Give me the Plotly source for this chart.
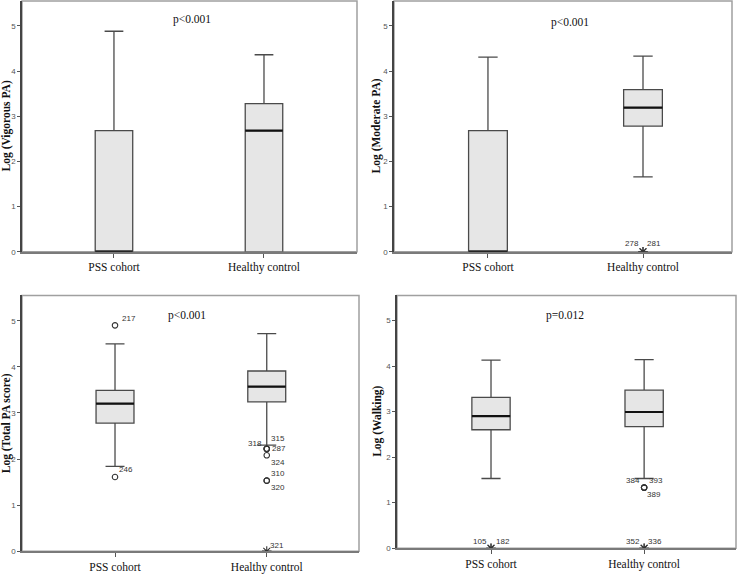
import plotly.graph_objects as go

# ---------------- data ----------------
categories = ["PSS cohort", "Healthy control"]

# Panel 1: Log (Vigorous PA)
vig_lower = [0.0, 0.0]
vig_q1 = [0.0, 0.0]
vig_median = [0.0, 2.68]
vig_q3 = [2.68, 3.28]
vig_upper = [4.88, 4.36]
vig_p = "p<0.001"

# Panel 2: Log (Moderate PA)
mod_lower = [0.0, 1.66]
mod_q1 = [0.0, 2.78]
mod_median = [0.0, 3.19]
mod_q3 = [2.68, 3.59]
mod_upper = [4.31, 4.33]
mod_p = "p<0.001"
mod_out_group = [1, 1]
mod_out_value = [0.0, 0.0]
mod_out_label = ["278", "281"]
mod_out_kind = ["*", "*"]

# Panel 3: Log (Total PA score)
tot_lower = [1.84, 2.30]
tot_q1 = [2.78, 3.24]
tot_median = [3.20, 3.57]
tot_q3 = [3.49, 3.91]
tot_upper = [4.50, 4.72]
tot_p = "p<0.001"
tot_out_group = [0, 0, 1, 1, 1, 1, 1, 1, 1]
tot_out_value = [4.90, 1.61, 2.22, 2.22, 2.22, 2.08, 1.53, 1.53, 0.0]
tot_out_label = ["217", "246", "318", "315", "287", "324", "310", "320", "321"]
tot_out_kind = ["o", "o", "o", "o", "o", "o", "o", "o", "*"]

# Panel 4: Log (Walking)
walk_lower = [1.53, 1.53]
walk_q1 = [2.60, 2.67]
walk_median = [2.90, 2.99]
walk_q3 = [3.31, 3.47]
walk_upper = [4.13, 4.14]
walk_p = "p=0.012"
walk_out_group = [0, 0, 1, 1, 1, 1, 1]
walk_out_value = [0.0, 0.0, 0.0, 0.0, 1.33, 1.33, 1.33]
walk_out_label = ["105", "182", "352", "336", "384", "393", "389"]
walk_out_kind = ["*", "*", "*", "*", "o", "o", "o"]

y_titles = ["Log (Vigorous PA)", "Log (Moderate PA)", "Log (Total PA score)", "Log (Walking)"]
y_ticks = [0, 1, 2, 3, 4, 5]

# ---------------- styles ----------------
W, H = 738, 576
# label offsets (style): label -> (xanchor, xshift, yshift)
label_style = {
    "278": ("right", -2, 8), "281": ("left", 2, 8),
    "217": ("left", 5, 7), "246": ("left", 2, 7),
    "318": ("right", -3, 5), "315": ("left", 2, 10), "287": ("left", 3, 0),
    "324": ("left", 2, -7), "310": ("left", 2, 7), "320": ("left", 2, -7),
    "321": ("left", 1, 6),
    "105": ("right", -2, 7), "182": ("left", 3, 7),
    "352": ("right", -2, 7), "336": ("left", 2, 7),
    "384": ("right", -2, 7), "393": ("left", 3, 7), "389": ("left", 1, -7),
}
# panel pixel boxes: left, right, top, bottom
panel_px = [(22, 357, 1, 254), (394, 732, 1, 254), (22, 359, 298, 556), (397, 736, 298, 553)]
x_ranges = [(-0.613, 1.62), (-0.606, 1.574), (-0.613, 1.608), (-0.614, 1.60)]
y_top = [5.55, 5.55, 5.55, 5.55]
p_pos = [(0.507, 0.925), (0.52, 0.915), (0.49, 0.922), (0.495, 0.92)]
title_x_px = [6, 376, 6, 378]

box_width = 0.25
box_fill = "#e6e6e6"
box_line = "#4a4a4a"
serif = "Liberation Serif, Times New Roman, serif"
sans = "Liberation Sans, Arial, sans-serif"

panels = [
    (vig_lower, vig_q1, vig_median, vig_q3, vig_upper, vig_p, [], [], [], []),
    (mod_lower, mod_q1, mod_median, mod_q3, mod_upper, mod_p, mod_out_group, mod_out_value, mod_out_label, mod_out_kind),
    (tot_lower, tot_q1, tot_median, tot_q3, tot_upper, tot_p, tot_out_group, tot_out_value, tot_out_label, tot_out_kind),
    (walk_lower, walk_q1, walk_median, walk_q3, walk_upper, walk_p, walk_out_group, walk_out_value, walk_out_label, walk_out_kind),
]

fig = go.Figure()
annotations = []
shapes = []
layout_axes = {}

for k, (lo, q1, med, q3, up, ptxt, og, ov, ol, okind) in enumerate(panels):
    n = k + 1
    xa = "x" if n == 1 else f"x{n}"
    ya = "y" if n == 1 else f"y{n}"
    xkey = "xaxis" if n == 1 else f"xaxis{n}"
    ykey = "yaxis" if n == 1 else f"yaxis{n}"
    l, r, t, b = panel_px[k]
    xs = list(range(len(categories)))

    fig.add_trace(go.Box(
        x=xs, q1=q1, median=med, q3=q3, lowerfence=lo, upperfence=up,
        boxpoints=False, width=box_width, whiskerwidth=0.5,
        fillcolor=box_fill, line=dict(color=box_line, width=1.3),
        xaxis=xa, yaxis=ya, showlegend=False, hoverinfo="skip",
    ))
    # thicker median lines
    mx, my = [], []
    for i, m in enumerate(med):
        mx += [i - box_width / 2, i + box_width / 2, None]
        my += [m, m, None]
    fig.add_trace(go.Scatter(x=mx, y=my, mode="lines", line=dict(color="#111111", width=2.2),
                             xaxis=xa, yaxis=ya, showlegend=False, hoverinfo="skip"))
    # outliers
    circ_x = [g for g, kd in zip(og, okind) if kd == "o"]
    circ_y = [v for v, kd in zip(ov, okind) if kd == "o"]
    star_x = [g for g, kd in zip(og, okind) if kd == "*"]
    star_y = [v for v, kd in zip(ov, okind) if kd == "*"]
    if circ_x:
        fig.add_trace(go.Scatter(x=circ_x, y=circ_y, mode="markers",
                                 marker=dict(symbol="circle-open", size=5.5, color="#333333", line=dict(width=1.1)),
                                 xaxis=xa, yaxis=ya, showlegend=False, hoverinfo="skip"))
    if star_x:
        fig.add_trace(go.Scatter(x=star_x, y=star_y, mode="markers",
                                 marker=dict(symbol="asterisk-open", size=8, color="#333333", line=dict(width=1.1, color="#333333")),
                                 xaxis=xa, yaxis=ya, showlegend=False, hoverinfo="skip"))
    for g, v, lab in zip(og, ov, ol):
        anc, dx, dy = label_style[lab]
        annotations.append(dict(x=g, y=v, xref=xa, yref=ya, text=lab, showarrow=False,
                                xanchor=anc, yanchor="middle", xshift=dx, yshift=dy,
                                font=dict(family=sans, size=8, color="#333333")))

    layout_axes[xkey] = dict(
        domain=[l / W, r / W], range=list(x_ranges[k]), anchor=ya,
        tickmode="array", tickvals=xs, ticktext=categories,
        tickfont=dict(family=serif, size=11.5, color="#111111"),
        ticks="outside", ticklen=4, tickcolor="#555555", tickwidth=1,
        showline=True, linecolor="#7a7a7a", linewidth=1.5,
        showgrid=False, zeroline=False, fixedrange=True,
    )
    layout_axes[ykey] = dict(
        domain=[(H - b) / H, (H - t) / H], range=[0, y_top[k]], anchor=xa,
        tickmode="array", tickvals=y_ticks, ticktext=[str(v) for v in y_ticks],
        tickfont=dict(family=sans, size=8, color="#555555"),
        ticks="outside", ticklen=3, tickcolor="#555555", tickwidth=1,
        showline=True, linecolor="#444444", linewidth=1.5,
        showgrid=False, zeroline=False, fixedrange=True,
    )
    # frame
    shapes.append(dict(type="rect", xref=f"{xa} domain", yref=f"{ya} domain", x0=0, x1=1, y0=0, y1=1,
                       line=dict(color="#a0a0a0", width=1.5), fillcolor="rgba(0,0,0,0)", layer="below"))
    # p-value
    px_, py_ = p_pos[k]
    annotations.append(dict(x=px_, y=py_, xref=f"{xa} domain", yref=f"{ya} domain", text=ptxt,
                            showarrow=False, xanchor="center", yanchor="middle",
                            font=dict(family=serif, size=11.5, color="#111111")))
    # y title
    annotations.append(dict(x=title_x_px[k] / W, y=(H - (t + b) / 2) / H, xref="paper", yref="paper",
                            text=f"<b>{y_titles[k]}</b>", textangle=-90, showarrow=False,
                            xanchor="center", yanchor="middle",
                            font=dict(family=serif, size=11.5, color="#111111")))

fig.update_layout(
    width=W, height=H, margin=dict(l=0, r=0, t=0, b=0),
    paper_bgcolor="white", plot_bgcolor="white",
    annotations=annotations, shapes=shapes, **layout_axes,
)

fig.write_html("out.html", config={"displayModeBar": False},
               post_script="document.body.style.margin='0';document.body.style.padding='0';")
